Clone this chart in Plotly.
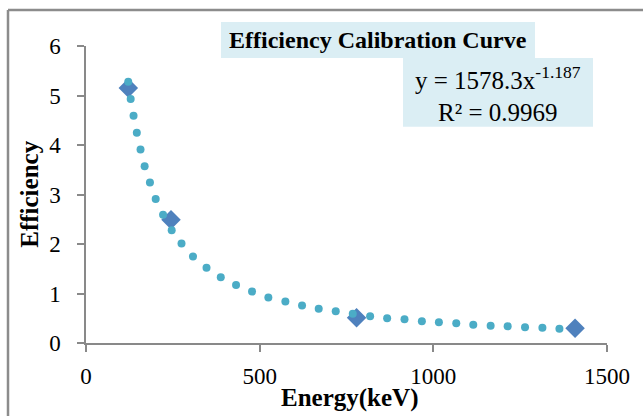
import plotly.graph_objects as go

# Measured calibration points (Energy keV, Efficiency)
energy = [121.8, 244.7, 778.9, 1408.0]
efficiency = [5.15, 2.49, 0.51, 0.30]

# Power trendline dots
trend_x = [121.6, 128.6, 136.9, 146.3, 157, 168.8, 184.1, 200.6, 221.9, 246.7,
           275, 308, 347, 388, 432, 478, 525, 574, 622, 670, 719, 768, 818,
           867, 917, 967, 1016, 1066, 1115, 1165, 1214, 1264, 1314, 1363]
trend_y = [5.28, 4.93, 4.59, 4.25, 3.91, 3.57, 3.24, 2.91, 2.59, 2.28,
           2.01, 1.75, 1.52, 1.33, 1.17, 1.04, 0.92, 0.84, 0.76, 0.69, 0.64, 0.59, 0.54,
           0.50, 0.48, 0.44, 0.42, 0.40, 0.37, 0.35, 0.34, 0.32, 0.31, 0.29]

x_ticks = [0, 500, 1000, 1500]
y_ticks = [0, 1, 2, 3, 4, 5, 6]

title_text = "<b>Efficiency Calibration Curve</b>"
eq_text = "y = 1578.3x<sup>-1.187</sup><br>R² = 0.9969"

FONT = "Times New Roman, Liberation Serif, serif"
AXC = "#898989"
BOXC = "#dbeef4"

fig = go.Figure()
fig.add_trace(go.Scatter(x=energy, y=efficiency, mode="markers",
                         marker=dict(symbol="diamond", size=15, color="#4f81bd"),
                         showlegend=False))
fig.add_trace(go.Scatter(x=trend_x, y=trend_y, mode="markers",
                         marker=dict(symbol="circle", size=8, color="#4bacc6"),
                         showlegend=False))

L, R, T, B = 86, 36, 46, 72.5
W, H = 643, 416
pw, ph = W - L - R, H - T - B

def px(xp):
    return (xp - L) / pw

def py(yp):
    return (H - B - yp) / ph

shapes = [
    # chart area frame (left and top visible)
    dict(type="line", xref="paper", yref="paper", x0=px(8), x1=px(8), y0=py(430), y1=py(10),
         line=dict(color="#8c8c8c", width=2.5)),
    dict(type="line", xref="paper", yref="paper", x0=px(8), x1=px(660), y0=py(10), y1=py(10),
         line=dict(color="#8c8c8c", width=2.5)),
    # title box
    dict(type="rect", xref="paper", yref="paper", x0=px(221), x1=px(535), y0=py(58), y1=py(22),
         fillcolor=BOXC, line=dict(width=0)),
    # equation box
    dict(type="rect", xref="paper", yref="paper", x0=px(403), x1=px(593), y0=py(127), y1=py(58),
         fillcolor=BOXC, line=dict(width=0)),
]

annotations = [
    dict(text=title_text, xref="paper", yref="paper", x=px(378), y=py(40),
         xanchor="center", yanchor="middle", showarrow=False,
         font=dict(family=FONT, size=24, color="black")),
    dict(text=eq_text, xref="paper", yref="paper", x=px(498), y=py(94),
         xanchor="center", yanchor="middle", showarrow=False, align="center",
         font=dict(family=FONT, size=25, color="black")),
    dict(text="<b>Efficiency</b>", xref="paper", yref="paper", x=px(30), y=py(195),
         xanchor="center", yanchor="middle", showarrow=False, textangle=-90,
         font=dict(family=FONT, size=25, color="black")),
    dict(text="<b>Energy(keV)</b>", xref="paper", yref="paper", x=px(349), y=py(399),
         xanchor="center", yanchor="middle", showarrow=False,
         font=dict(family=FONT, size=25, color="black")),
]

fig.update_layout(
    width=W, height=H,
    margin=dict(l=L, r=R, t=T, b=B),
    paper_bgcolor="white", plot_bgcolor="white",
    shapes=shapes, annotations=annotations,
    font=dict(family=FONT, size=23, color="black"),
    xaxis=dict(range=[0, 1500], tickvals=x_ticks, ticktext=[str(v) for v in x_ticks],
               showgrid=False, zeroline=False, showline=True, linecolor=AXC, linewidth=1.5,
               ticks="outside", ticklen=7, tickcolor=AXC, tickwidth=1.5,
               ticklabelstandoff=5, tickfont=dict(family=FONT, size=23, color="black")),
    yaxis=dict(range=[0, 6], tickvals=y_ticks, ticktext=[str(v) for v in y_ticks],
               showgrid=False, zeroline=False, showline=True, linecolor=AXC, linewidth=1.5,
               ticks="outside", ticklen=7, tickcolor=AXC, tickwidth=1.5,
               ticklabelstandoff=12, tickfont=dict(family=FONT, size=23, color="black")),
)

fig.write_html("out.html")
